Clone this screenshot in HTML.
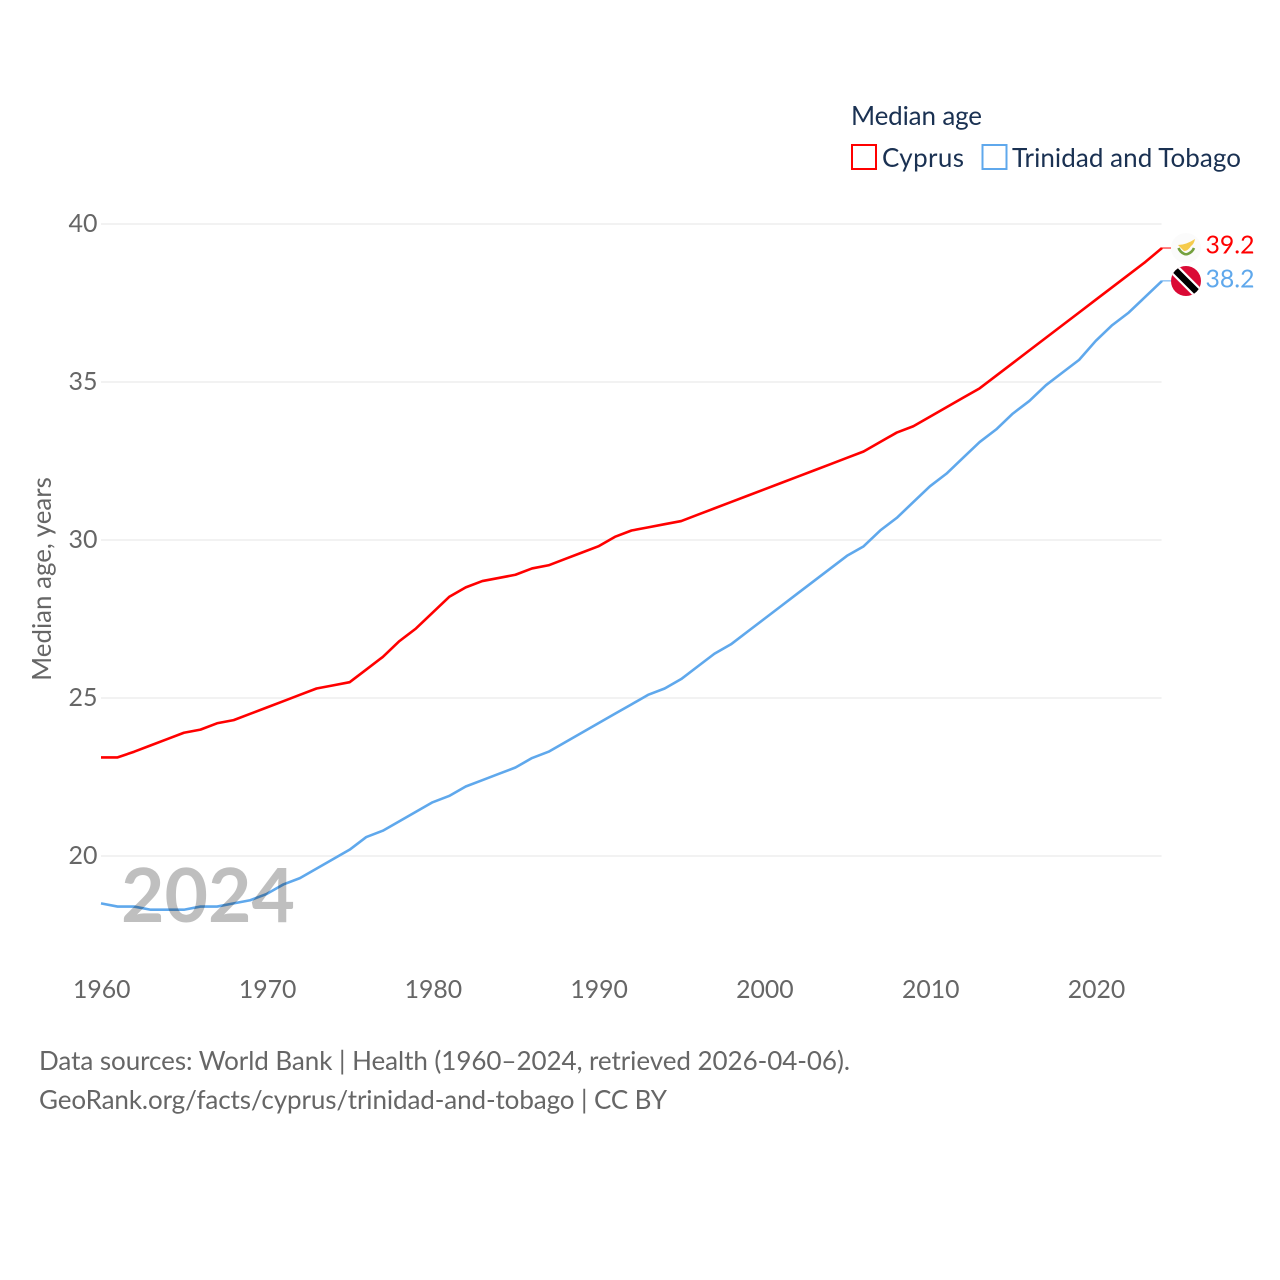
<!DOCTYPE html>
<html lang="en">
<head>
<meta charset="utf-8">
<title>Median age: Cyprus and Trinidad and Tobago</title>
<style>
html,body{margin:0;padding:0;background:#fff;}
svg{display:block;font-family:"Lato","Carlito","Liberation Sans",sans-serif;}
</style>
</head>
<body>
<svg id="chart" width="1280" height="1280" viewBox="0 0 1280 1280" xmlns="http://www.w3.org/2000/svg">
  <defs>
    <clipPath id="tt-clip"><circle cx="1186" cy="281" r="15"/></clipPath>
  </defs>
  <rect width="1280" height="1280" fill="#fff"/>
  <g id="grid"></g>
  <g id="y-ticks"></g>
  <g id="x-ticks"></g>
  <text transform="translate(51,579) rotate(-90)" text-anchor="middle" font-size="25.9" fill="#666">Median age, years</text>
  <g id="series"></g>
  <text x="121" y="922" font-size="75" font-weight="700" fill="#000" fill-opacity="0.25">2024</text>

  <g>
    <circle cx="1186" cy="248" r="15" fill="#fbfbfb"/>
    <path d="M1178 245 Q1186 245 1195 239 Q1194 244 1191 246 Q1188 251 1184 251 Q1181 248 1178 245 Z" fill="#f5cb4c"/>
    <path d="M1178.500 248 Q1180.500 253 1186 254.500 M1194 248 Q1192 253 1186 254.500" fill="none" stroke="#74a03e" stroke-width="2.600"/>
  </g>
  <g clip-path="url(#tt-clip)">
    <rect x="1170" y="265" width="32" height="32" fill="#da0a35"/>
    <path d="M1170 265 L1202 297" stroke="#fff" stroke-width="11"/>
    <path d="M1170 265 L1202 297" stroke="#000" stroke-width="6.500"/>
  </g>

  <g id="end-labels"></g>

  <g>
    <text x="851" y="125" font-size="26" fill="#1a3152" textLength="131">Median age</text>
    <g>
      <rect x="852" y="145" width="24" height="24" fill="none" stroke="#ff0000" stroke-width="2"/>
      <text x="882" y="167" font-size="26" fill="#1a3152" textLength="82">Cyprus</text>
    </g>
    <g>
      <rect x="982.500" y="145" width="24" height="24" fill="none" stroke="#5fa8ec" stroke-width="2"/>
      <text x="1012" y="167" font-size="26" fill="#1a3152" textLength="229">Trinidad and Tobago</text>
    </g>
  </g>

  <g>
    <text x="39" y="1070" font-size="26" fill="#666" textLength="811">Data sources: World Bank | Health (1960–2024, retrieved 2026-04-06).</text>
    <text x="39" y="1109" font-size="26" fill="#666" textLength="628">GeoRank.org/facts/cyprus/trinidad-and-tobago | CC BY</text>
  </g>
</svg>
<script>
const startYear = 1960;
const yTickValues = [20, 25, 30, 35, 40];
const xTickValues = [1960, 1970, 1980, 1990, 2000, 2010, 2020];
const cyprusValues = [23.12,23.12,23.3,23.5,23.7,23.9,24.0,24.2,24.3,24.5,24.7,24.9,25.1,25.3,25.4,25.5,25.9,26.3,26.8,27.2,27.7,28.2,28.5,28.7,28.8,28.9,29.1,29.2,29.4,29.6,29.8,30.1,30.3,30.4,30.5,30.6,30.8,31.0,31.2,31.4,31.6,31.8,32.0,32.2,32.4,32.6,32.8,33.1,33.4,33.6,33.9,34.2,34.5,34.8,35.2,35.6,36.0,36.4,36.8,37.2,37.6,38.0,38.4,38.8,39.24];
const trinidadValues = [18.5,18.4,18.4,18.3,18.3,18.3,18.4,18.4,18.5,18.6,18.8,19.1,19.3,19.6,19.9,20.2,20.6,20.8,21.1,21.4,21.7,21.9,22.2,22.4,22.6,22.8,23.1,23.3,23.6,23.9,24.2,24.5,24.8,25.1,25.3,25.6,26.0,26.4,26.7,27.1,27.5,27.9,28.3,28.7,29.1,29.5,29.8,30.3,30.7,31.2,31.7,32.1,32.6,33.1,33.5,34.0,34.4,34.9,35.3,35.7,36.3,36.8,37.2,37.7,38.2];
const cyprusEndLabel = "39.2";
const trinidadEndLabel = "38.2";

const SVG_NS = "http://www.w3.org/2000/svg";
const plotLeft = 101, plotRight = 1162;
const endYear = startYear + cyprusValues.length - 1;
function xScale(year) { return plotLeft + (year - startYear) * (plotRight - plotLeft) / (endYear - startYear); }
function yScale(value) { return 856 - (value - 20) * 31.6; }
function linePoints(values) {
  return values.map(function (v, i) { return xScale(startYear + i).toFixed(2) + "," + yScale(v).toFixed(2); }).join(" ");
}
function make(tag, attrs, parent, text) {
  const el = document.createElementNS(SVG_NS, tag);
  Object.keys(attrs).forEach(function (k) { el.setAttribute(k, attrs[k]); });
  if (text !== undefined) el.textContent = text;
  parent.appendChild(el);
  return el;
}

const gridGroup = document.getElementById("grid");
const yTickGroup = document.getElementById("y-ticks");
yTickValues.forEach(function (v) {
  const gridline = make("line", {x1: plotLeft, x2: plotRight - 0.5, y1: yScale(v), y2: yScale(v), stroke: "#eeeeee", "stroke-width": 1.5}, gridGroup);
  
  
  const tick = make("text", {x: 97.5, y: yScale(v) + 8, "text-anchor": "end", "font-size": 25, fill: "#666"}, yTickGroup, String(v));
  
  
});

const xTickGroup = document.getElementById("x-ticks");
xTickValues.forEach(function (year) {
  const tick = make("text", {x: xScale(year) + 0.8, y: 998, "text-anchor": "middle", "font-size": 24.8, fill: "#666"}, xTickGroup, String(year));
  
  
});

const seriesGroup = document.getElementById("series");
const trinidadLine = make("polyline", {points: linePoints(trinidadValues), fill: "none", stroke: "#5fa8ec", "stroke-width": 2.6, "stroke-linejoin": "round"}, seriesGroup);


const cyprusLine = make("polyline", {points: linePoints(cyprusValues), fill: "none", stroke: "#ff0000", "stroke-width": 2.6, "stroke-linejoin": "round"}, seriesGroup);



const endGroup = document.getElementById("end-labels");
const cyprusEndY = yScale(cyprusValues[cyprusValues.length - 1]);
const trinidadEndY = yScale(trinidadValues[trinidadValues.length - 1]);
const cyprusConnector = make("line", {x1: plotRight, x2: plotRight + 9, y1: cyprusEndY, y2: cyprusEndY, stroke: "#ff0000", "stroke-width": 1}, endGroup);


const trinidadConnector = make("line", {x1: plotRight, x2: plotRight + 9, y1: trinidadEndY, y2: trinidadEndY, stroke: "#5fa8ec", "stroke-width": 1}, endGroup);


const cyprusLabel = make("text", {x: 1205.5, y: cyprusEndY + 5.5, "font-size": 24.8, fill: "#ff0000"}, endGroup, cyprusEndLabel);


const trinidadLabel = make("text", {x: 1205.5, y: trinidadEndY + 6.5, "font-size": 24.8, fill: "#5fa8ec"}, endGroup, trinidadEndLabel);


</script>
</body>
</html>
